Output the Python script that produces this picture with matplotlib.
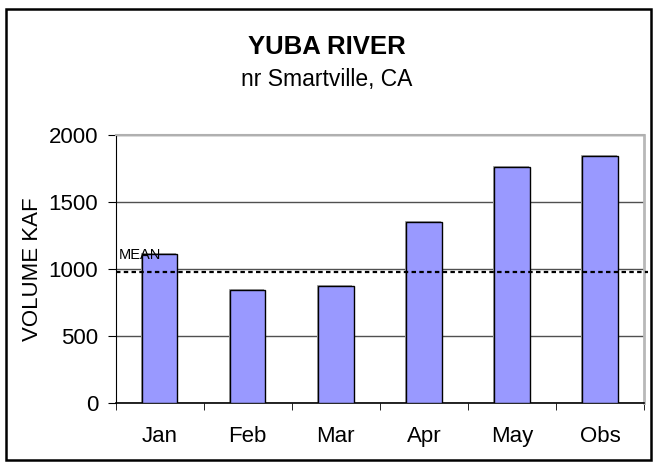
import numpy as np
import matplotlib
matplotlib.use("Agg")
import matplotlib.pyplot as plt
from matplotlib.patches import Rectangle

plt.rcParams['font.family'] = ['Liberation Sans', 'DejaVu Sans']

# Data
months = ["Jan", "Feb", "Mar", "Apr", "May", "Obs"]
volume = [1107, 839, 871, 1349, 1759, 1839]
mean_value = 975
y_ticks = [0, 500, 1000, 1500, 2000]

W, H = 654, 463
fig = plt.figure(figsize=(W / 100, H / 100), dpi=100)
# plot area in pixels: left 115.5, right 644, top 134.7, bottom 402.7
ax = fig.add_axes([115.5 / W, 1 - 402.7 / H, (644 - 115.5) / W, (402.7 - 134.7) / H])

x = np.arange(len(months))

# thin grey shadow, then the bars
ax.bar(x - 0.012, np.array(volume) + 10, width=0.405, color="#a8a8a8", zorder=2)
ax.bar(x, volume, width=0.405, color="#9999ff", edgecolor="black",
       linewidth=1.0, zorder=3)

# mean line
ax.plot([-0.5, 5.54], [mean_value, mean_value], color="black",
        linestyle=(0, (2, 1.5)), linewidth=1.6, zorder=4, clip_on=False)
ax.text(-0.46, 1072, "MEAN", fontsize=10.5, va="baseline", ha="left",
        zorder=5)

ax.set_xlim(-0.5, 5.5)
ax.set_ylim(0, 2000)
ax.set_yticks(y_ticks)
ax.set_yticklabels([str(v) for v in y_ticks], fontsize=16)
ax.set_xticks(x)
ax.set_xticklabels(months, fontsize=16)
ax.set_xticks(np.arange(-0.5, 6, 1), minor=True)
ax.tick_params(axis="x", which="major", length=0, pad=17)
ax.tick_params(axis="x", which="minor", length=5, direction="out",
               color="black")
ax.tick_params(axis="y", length=5.5, direction="out", color="black", pad=7)

ax.grid(axis="y", color="#505050", linewidth=1.0, zorder=1)
ax.set_axisbelow(True)

ax.spines["top"].set_color("#b0b0b0")
ax.spines["top"].set_linewidth(1.5)
ax.spines["right"].set_color("#b8b8b8")
ax.spines["right"].set_linewidth(2.0)
ax.spines["left"].set_color("black")
ax.spines["bottom"].set_color("black")
ax.spines["bottom"].set_linewidth(1.2)

ax.set_ylabel("VOLUME KAF", fontsize=16, labelpad=4)

fig.text(0.5, 1 - 54.3 / H, "YUBA RIVER", fontsize=18.5, fontweight="bold",
         ha="center", va="baseline")
fig.text(0.5, 1 - 85.7 / H, "nr Smartville, CA", fontsize=16.5,
         ha="center", va="baseline")

# outer border
fig.patches.append(Rectangle((6 / W, 3 / H), 645 / W, 451 / H,
                             transform=fig.transFigure, fill=False,
                             edgecolor="black", linewidth=1.8))

fig.savefig("out.png", dpi=100)
